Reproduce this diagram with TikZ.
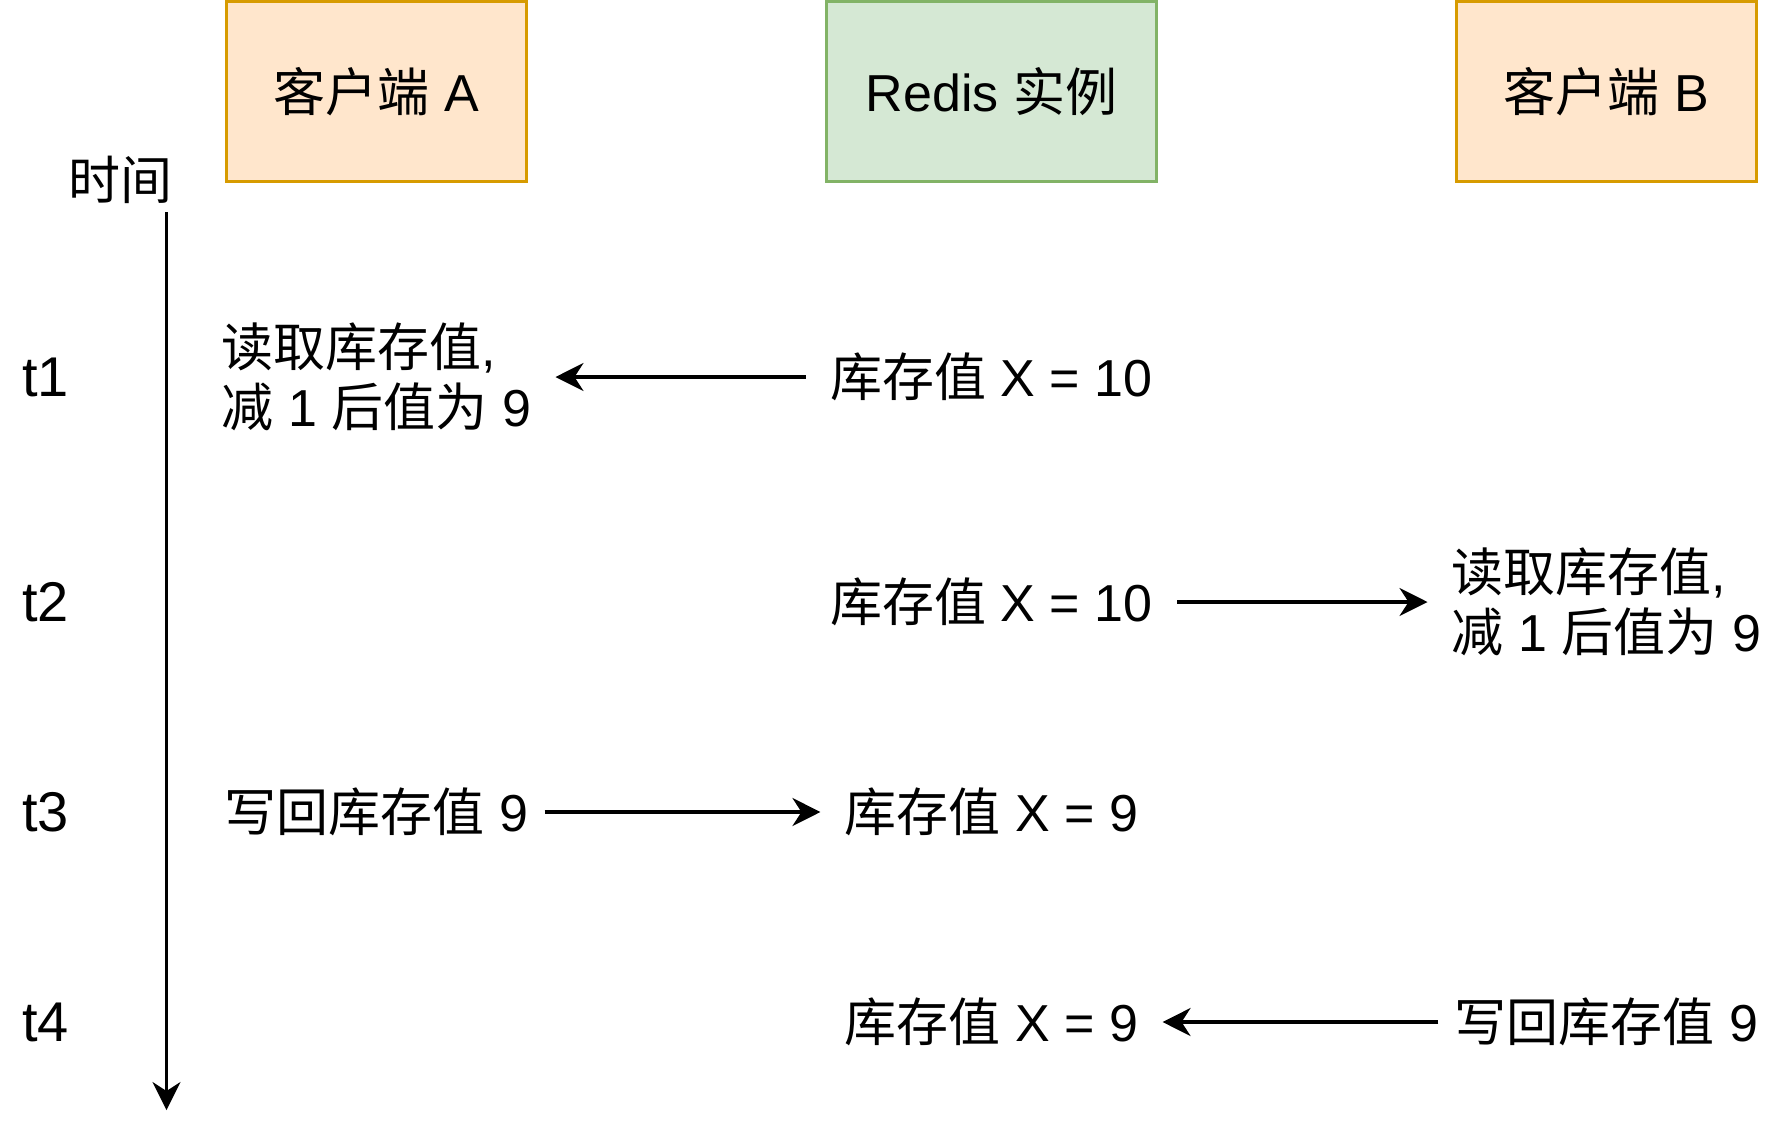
\documentclass[tikz,border=0pt]{standalone}
\usepackage{fontspec}
\setmainfont{Liberation Sans}
\newfontfamily\cjk{Noto Sans CJK SC}
\newcommand{\zh}[1]{{\cjk #1}}
\usetikzlibrary{arrows.meta}
\definecolor{orfill}{HTML}{FFE6CC}
\definecolor{ordraw}{HTML}{D79B00}
\definecolor{grfill}{HTML}{D5E8D4}
\definecolor{grdraw}{HTML}{82B366}

\begin{document}
\begin{tikzpicture}[x=0.5pt, y=-0.5pt,
    txt/.style={inner sep=0pt, font=\fontsize{26}{30}\selectfont, align=left},
    client/.style={txt, align=center, draw=ordraw, fill=orfill, line width=1.5pt, minimum width=150pt, minimum height=90pt},
    server/.style={txt, align=center, draw=grdraw, fill=grfill, line width=1.5pt, minimum width=165pt, minimum height=90pt},
    tlabel/.style={anchor=west, inner sep=0pt, font=\fontsize{28}{34}\selectfont},
    tip/.style={-{Stealth[length=14pt, width=14pt, inset=4.5pt]}, line width=1.6pt},
    msg/.style={tip, shorten <=12pt, shorten >=12pt}]
    \useasboundingbox (0,0) rectangle (1788,1137);
    \node[client] (clientA) at (376.5,91.3) {\zh{客户端} A};
    \node[server] (redis) at (991.5,91.3) {Redis \zh{实例}};
    \node[client] (clientB) at (1606.5,91.3) {\zh{客户端} B};
    \node[txt] (timelabel) at (120,180) {\zh{时间}};
    \coordinate (axistop) at (166.5,212);
    \coordinate (axisend) at (166.5,1110);
    \draw[tip, line width=1.4pt] (axistop) -- (axisend);
    \node[tlabel] (t1) at (22,377) {t1};
    \node[tlabel] (t2) at (22,602) {t2};
    \node[tlabel] (t3) at (22,812) {t3};
    \node[tlabel] (t4) at (22,1022) {t4};
    \node[txt] (a1) at (376.5,377) {\zh{读取库存值},\\\zh{减} 1 \zh{后值为} 9};
    \node[txt] (r1) at (991.5,377) {\zh{库存值} X = 10};
    \draw[msg] (r1) -- (a1);
    \node[txt] (r2) at (991.5,602) {\zh{库存值} X = 10};
    \node[txt] (b2) at (1606.5,602) {\zh{读取库存值},\\\zh{减} 1 \zh{后值为} 9};
    \draw[msg] (r2) -- (b2);
    \node[txt] (a3) at (376.5,812) {\zh{写回库存值} 9};
    \node[txt] (r3) at (991.5,812) {\zh{库存值} X = 9};
    \draw[msg, shorten <=8pt] (a3) -- (r3);
    \node[txt] (r4) at (991.5,1022) {\zh{库存值} X = 9};
    \node[txt] (b4) at (1606.5,1022) {\zh{写回库存值} 9};
    \draw[msg, shorten <=8pt] (b4) -- (r4);
\end{tikzpicture}
\end{document}
